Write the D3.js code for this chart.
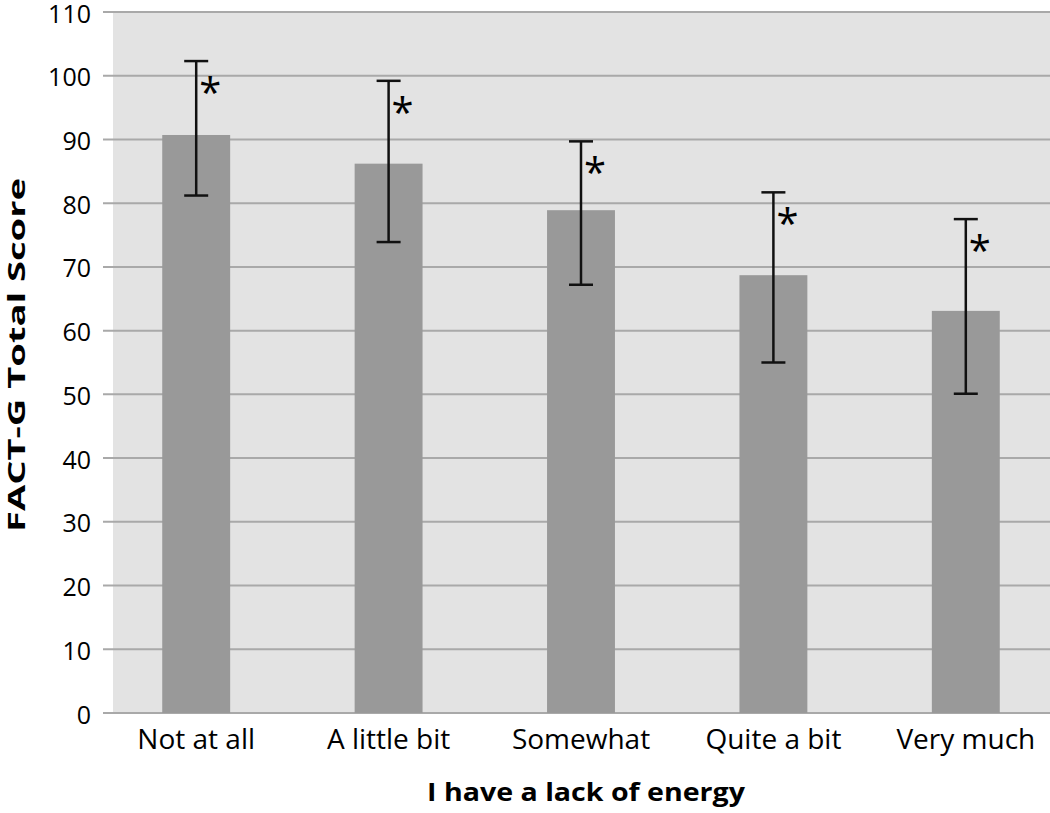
<!DOCTYPE HTML>
<html>
<head>
<meta charset="utf-8">
<title>FACT-G</title>
<script src="https://d3js.org/d3.v7.min.js"></script>
<style>
body { margin: 0; background: #fff; }
text { font-family: "Open Sans", "DejaVu Sans", sans-serif; fill: #000; }
</style>
</head>
<body>
<script>

"use strict";

const categories = ["Not at all", "A little bit", "Somewhat", "Quite a bit", "Very much"];
const means = [90.7, 86.2, 78.9, 68.7, 63.1];
const upper = [102.3, 99.2, 89.7, 81.7, 77.5];
const lower = [81.2, 73.9, 67.2, 55.0, 50.1];
const yTicks = [0, 10, 20, 30, 40, 50, 60, 70, 80, 90, 100, 110];

const width = 1050, height = 813;

const svg = d3.select("body").append("svg")
  .attr("width", width)
  .attr("height", height);

const y = d3.scaleLinear().domain([0, 110]).range([713, 12]);
const x = d3.scaleBand().domain(categories).range([100, 1062]).paddingInner(0.647).paddingOuter(0.3235);

// plot background
svg.append("rect")
  .attr("x", 113)
  .attr("y", y(110))
  .attr("width", width - 113)
  .attr("height", y(0) - y(110))
  .attr("fill", "#e3e3e3");

// gridlines
svg.append("g").selectAll("line")
  .data(yTicks)
  .enter()
  .append("line")
  .attr("x1", 103)
  .attr("x2", width)
  .attr("y1", (d) => y(d))
  .attr("y2", (d) => y(d))
  .attr("stroke", "#a9a9a9")
  .attr("stroke-width", 2);

// y tick labels
svg.append("g").selectAll("text")
  .data(yTicks)
  .enter()
  .append("text")
  .attr("x", 91)
  .attr("y", (d) => y(d))
  .attr("dy", "0.42em")
  .attr("text-anchor", "end")
  .attr("font-size", 25)
  .text((d) => d);

// bars
svg.append("g").selectAll("rect")
  .data(categories)
  .enter()
  .append("rect")
  .attr("x", (d) => x(d))
  .attr("y", (d, i) => y(means[i]))
  .attr("width", x.bandwidth())
  .attr("height", (d, i) => y(0) - y(means[i]))
  .attr("fill", "#999999");

// error bars
const err = svg.append("g").attr("stroke", "#111").attr("stroke-width", 2.5);
categories.forEach((c, i) => {
  const cx = x(c) + x.bandwidth() / 2;
  err.append("line").attr("x1", cx).attr("x2", cx).attr("y1", y(upper[i])).attr("y2", y(lower[i]));
  err.append("line").attr("x1", cx - 12).attr("x2", cx + 12).attr("y1", y(upper[i])).attr("y2", y(upper[i]));
  err.append("line").attr("x1", cx - 12).attr("x2", cx + 12).attr("y1", y(lower[i])).attr("y2", y(lower[i]));
  svg.append("text")
    .attr("x", cx + 14)
    .attr("y", y(upper[i]) + 46)
    .attr("text-anchor", "middle")
    .attr("font-size", 40)
    .text("*");
});

// x tick labels
svg.append("g").selectAll("text")
  .data(categories)
  .enter()
  .append("text")
  .attr("x", (d) => x(d) + x.bandwidth() / 2)
  .attr("y", 749)
  .attr("text-anchor", "middle")
  .attr("font-size", 28)
  .text((d) => d);

// axis titles
svg.append("text")
  .attr("x", 586)
  .attr("y", 801)
  .attr("text-anchor", "middle")
  .attr("font-size", 25)
  .attr("font-weight", "bold")
  .attr("textLength", 318)
  .attr("lengthAdjust", "spacingAndGlyphs")
  .text("I have a lack of energy");

svg.append("text")
  .attr("transform", "translate(25, 355) rotate(-90)")
  .attr("text-anchor", "middle")
  .attr("font-size", 24)
  .attr("font-weight", "bold")
  .attr("textLength", 354)
  .attr("lengthAdjust", "spacingAndGlyphs")
  .text("FACT-G Total Score");

</script>
</body>
</html>
